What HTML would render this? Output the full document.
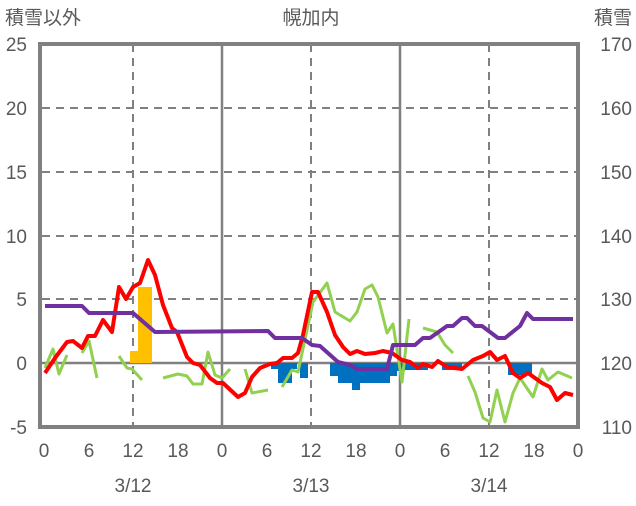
<!DOCTYPE html>
<html><head><meta charset="utf-8"><style>
body{margin:0;background:#fff;}
text{font-family:"Liberation Sans","Noto Sans CJK JP",sans-serif;fill:#595959;font-size:19px;}
</style></head><body>
<svg width="636" height="501" viewBox="0 0 636 501" xmlns="http://www.w3.org/2000/svg">
<rect width="636" height="501" fill="#fff"/>
<g stroke="#808080" stroke-width="2" stroke-dasharray="8,6" fill="none">
<line x1="42" y1="108" x2="578" y2="108"/><line x1="42" y1="172" x2="578" y2="172"/>
<line x1="42" y1="236" x2="578" y2="236"/><line x1="42" y1="299" x2="578" y2="299"/>
<line x1="133" y1="44" x2="133" y2="427"/><line x1="311" y1="44" x2="311" y2="427"/><line x1="489" y1="44" x2="489" y2="427"/>
</g>
<g stroke="#808080" stroke-width="2.5">
<line x1="222" y1="44" x2="222" y2="427"/><line x1="400" y1="44" x2="400" y2="427"/>
<line x1="42" y1="363" x2="578" y2="363"/>
</g>
<g fill="#FFC000">
<rect x="130" y="351" width="8" height="12"/><rect x="138" y="287" width="14" height="76"/>
</g>
<g fill="#0070C0">
<rect x="271" y="363" width="7" height="6"/><rect x="278" y="363" width="14" height="20"/><rect x="292" y="363" width="5" height="6"/>
<rect x="300" y="363" width="8" height="15"/>
<rect x="330" y="363" width="8" height="13"/><rect x="338" y="363" width="14" height="20"/><rect x="352" y="363" width="8" height="27"/>
<rect x="360" y="363" width="15" height="20"/><rect x="375" y="363" width="15" height="20"/><rect x="390" y="363" width="7" height="13"/><rect x="397" y="363" width="8" height="8"/>
<rect x="405" y="363" width="23" height="7"/><rect x="442" y="363" width="20" height="7"/><rect x="508" y="363" width="24" height="12"/>
</g>
<g stroke="#92D050" stroke-width="3" fill="none" stroke-linejoin="round">
<polyline points="45,368 53,349 59,374 67,355"/>
<polyline points="82,353 89,341 97,378"/>
<polyline points="119,356 127,368 132,369 142,380"/>
<polyline points="163,378 178,374 187,376 193,384 202,384 208,352 215,375 222,378 230,369"/>
<polyline points="245,369 252,393 268,390"/>
<polyline points="282,387 292,370 298,372 313,302 327,283 335,312 350,321 357,312 365,289 372,285 378,297 387,333 393,324 402,382 409,319"/>
<polyline points="423,328 437,332 445,345 453,353"/>
<polyline points="468,376 475,392 483,418 490,422 497,390 505,422 513,393 520,378 533,397 542,369 548,380 558,372 572,378"/>
</g>
<polyline fill="none" stroke="#FF0000" stroke-width="4" stroke-linejoin="round" points="45,373 55,358 67,342 73,341 82,348 88,336 95,336 103,320 112,332 119,287 126,299 133,287 140,283 148,260 155,275 163,305 172,328 177,332 187,357 193,363 200,365 210,378 217,383 223,383 238,397 245,393 252,377 260,368 270,364 277,363 283,358 292,358 298,353 303,335 312,292 318,292 327,312 335,335 343,347 350,354 357,351 365,354 375,353 383,351 392,353 402,360 410,362 418,368 423,364 432,367 438,361 447,367 462,369 473,360 483,356 490,352 497,360 505,356 513,373 520,378 528,373 542,383 550,387 557,400 565,393 573,395"/>
<polyline fill="none" stroke="#7030A0" stroke-width="4" stroke-linejoin="round" points="45,306 82,306 89,313 133,313 155,332 268,331 275,338 302,338 312,345 320,346 338,362 350,365 357,369 387,369 393,345 415,345 423,338 430,338 447,326 453,326 462,318 467,318 475,326 482,326 498,338 505,338 520,326 527,313 533,319 573,319"/>
<rect x="40" y="44" width="538" height="383" fill="none" stroke="#808080" stroke-width="4"/>
<text x="5" y="24">積雪以外</text>
<text x="311" y="24" text-anchor="middle">幌加内</text>
<text x="632" y="24" text-anchor="end">積雪</text>
<g text-anchor="end">
<text x="27" y="51">25</text><text x="27" y="115">20</text><text x="27" y="179">15</text>
<text x="27" y="243">10</text><text x="27" y="306">5</text><text x="27" y="370">0</text><text x="27" y="434">-5</text>
</g>
<g text-anchor="end">
<text x="632" y="51">170</text><text x="632" y="115">160</text><text x="632" y="179">150</text>
<text x="632" y="243">140</text><text x="632" y="306">130</text><text x="632" y="370">120</text><text x="632" y="434">110</text>
</g>
<g text-anchor="middle">
<text x="44" y="457">0</text><text x="89" y="457">6</text><text x="133" y="457">12</text><text x="178" y="457">18</text>
<text x="222" y="457">0</text><text x="267" y="457">6</text><text x="311" y="457">12</text><text x="356" y="457">18</text>
<text x="400" y="457">0</text><text x="445" y="457">6</text><text x="489" y="457">12</text><text x="534" y="457">18</text><text x="578" y="457">0</text>
<text x="133" y="492">3/12</text><text x="311" y="492">3/13</text><text x="489" y="492">3/14</text>
</g>
</svg>
</body></html>
